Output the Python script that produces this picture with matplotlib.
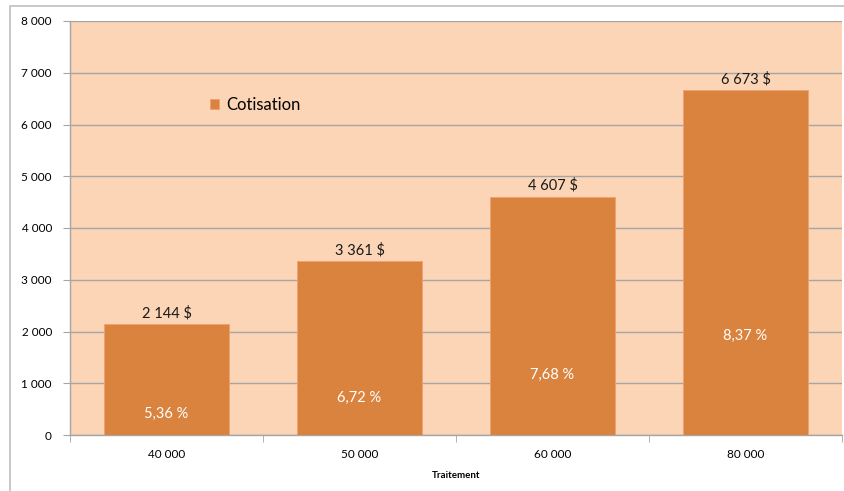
import matplotlib
matplotlib.use("Agg")
import matplotlib.pyplot as plt
from matplotlib.patches import Rectangle
import numpy as np

plt.rcParams['font.family'] = ['Lato', 'DejaVu Sans']

categories = ["40 000", "50 000", "60 000", "80 000"]
cotisation = [2144, 3361, 4607, 6673]
value_labels = ["2 144 $", "3 361 $", "4 607 $", "6 673 $"]
pct_labels = ["5,36 %", "6,72 %", "7,68 %", "8,37 %"]
pct_label_y = [406, 715, 1160, 1913]
y_ticks = [0, 1000, 2000, 3000, 4000, 5000, 6000, 7000, 8000]
y_tick_labels = ["0", "1 000", "2 000", "3 000", "4 000", "5 000", "6 000", "7 000", "8 000"]

BAR = "#DA833E"
BG = "#FBD5B5"
GRID = "#A6A6A6"

fig = plt.figure(figsize=(8.44, 4.91), dpi=100)
W, H = 844, 491
# outer chart frame
fig.patches.append(Rectangle((10 / W, -0.01), 1.0, (H - 6) / H + 0.01, transform=fig.transFigure,
                             fill=False, edgecolor="#BFBFBF", linewidth=1.2))

ax = fig.add_axes([70 / W, (H - 435) / H, 772 / W, 414 / H])
ax.set_facecolor(BG)
x = np.arange(len(categories))
bars = ax.bar(x, cotisation, width=0.645, color=BAR, edgecolor="#F0A070", linewidth=0.6,
              label="Cotisation", zorder=3)

ax.set_xlim(-0.5, len(categories) - 0.5)
ax.set_ylim(0, 8000)
ax.set_yticks(y_ticks)
ax.set_yticklabels(y_tick_labels, fontsize=8.5)
ax.set_xticks(x)
ax.set_xticklabels(categories, fontsize=8.5)
ax.set_xticks(np.arange(len(categories) + 1) - 0.5, minor=True)
ax.tick_params(axis='x', which='major', length=0, pad=10)
ax.tick_params(axis='x', which='minor', length=5, color=GRID, direction='out')
ax.tick_params(axis='y', length=5, color=GRID, pad=8)
ax.grid(axis='y', color=GRID, linewidth=1.0, zorder=1)
ax.set_axisbelow(True)

for side in ["top", "right"]:
    ax.spines[side].set_visible(False)
for side in ["left", "bottom"]:
    ax.spines[side].set_color(GRID)
    ax.spines[side].set_linewidth(1.0)

for i, v in enumerate(cotisation):
    ax.text(x[i], v + 70, value_labels[i], ha='center', va='bottom', fontsize=10.5, color="#1A1A1A", zorder=4)
    ax.text(x[i], pct_label_y[i], pct_labels[i], ha='center', va='center', fontsize=10.5, color="white", zorder=4)

ax.set_xlabel("Traitement", fontsize=7, fontweight='bold', labelpad=8)

ax.legend(loc='upper left', bbox_to_anchor=(0.162, 0.853), frameon=False, fontsize=12,
          handlelength=0.55, handleheight=0.55, handletextpad=0.4)

fig.savefig("out.png", dpi=100, facecolor="white")
